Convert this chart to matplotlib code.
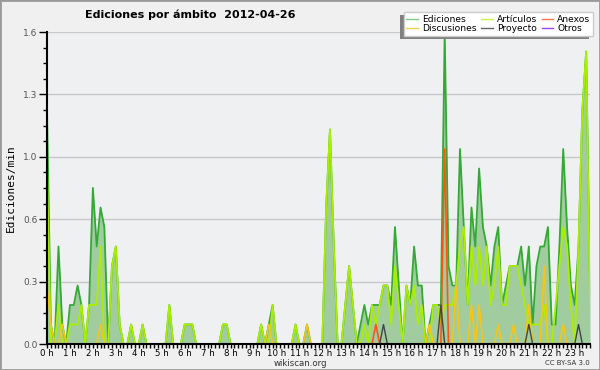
import numpy as np
import matplotlib
matplotlib.use('Agg')
import matplotlib.pyplot as plt
from matplotlib.patches import Rectangle
from matplotlib.lines import Line2D
from matplotlib.ticker import FixedLocator, MultipleLocator

# edits per minute, one value per 10-minute bin (one row per hour)
ediciones = [
    1.2, 0.1, 0.0, 0.5, 0.1, 0.0,
    0.2, 0.2, 0.3, 0.2, 0.0, 0.2,
    0.8, 0.5, 0.7, 0.6, 0.0, 0.4,
    0.5, 0.1, 0.0, 0.0, 0.1, 0.0,
    0.0, 0.1, 0.0, 0.0, 0.0, 0.0,
    0.0, 0.0, 0.2, 0.0, 0.0, 0.0,
    0.1, 0.1, 0.1, 0.0, 0.0, 0.0,
    0.0, 0.0, 0.0, 0.0, 0.1, 0.1,
    0.0, 0.0, 0.0, 0.0, 0.0, 0.0,
    0.0, 0.0, 0.1, 0.0, 0.1, 0.2,
    0.0, 0.0, 0.0, 0.0, 0.0, 0.1,
    0.0, 0.0, 0.1, 0.0, 0.0, 0.0,
    0.0, 0.7, 1.1, 0.5, 0.0, 0.0,
    0.2, 0.4, 0.2, 0.0, 0.1, 0.2,
    0.1, 0.2, 0.2, 0.2, 0.3, 0.3,
    0.2, 0.6, 0.3, 0.0, 0.3, 0.2,
    0.5, 0.3, 0.3, 0.0, 0.1, 0.2,
    0.2, 0.2, 1.6, 0.4, 0.3, 0.3,
    1.0, 0.6, 0.2, 0.7, 0.5, 0.9,
    0.6, 0.5, 0.3, 0.5, 0.6, 0.2,
    0.3, 0.4, 0.4, 0.4, 0.5, 0.3,
    0.5, 0.1, 0.4, 0.5, 0.5, 0.6,
    0.1, 0.1, 0.5, 1.0, 0.6, 0.3,
    0.2, 0.5, 1.2, 1.5, 0.3,
]
articulos = [
    0.9, 0.0, 0.0, 0.2, 0.0, 0.0,
    0.1, 0.1, 0.1, 0.2, 0.0, 0.2,
    0.2, 0.2, 0.5, 0.0, 0.0, 0.4,
    0.5, 0.1, 0.0, 0.0, 0.1, 0.0,
    0.0, 0.1, 0.0, 0.0, 0.0, 0.0,
    0.0, 0.0, 0.2, 0.0, 0.0, 0.0,
    0.1, 0.1, 0.1, 0.0, 0.0, 0.0,
    0.0, 0.0, 0.0, 0.0, 0.1, 0.1,
    0.0, 0.0, 0.0, 0.0, 0.0, 0.0,
    0.0, 0.0, 0.1, 0.0, 0.0, 0.2,
    0.0, 0.0, 0.0, 0.0, 0.0, 0.1,
    0.0, 0.0, 0.0, 0.0, 0.0, 0.0,
    0.0, 0.7, 1.1, 0.5, 0.0, 0.0,
    0.2, 0.4, 0.2, 0.0, 0.0, 0.1,
    0.0, 0.2, 0.1, 0.2, 0.3, 0.3,
    0.1, 0.4, 0.2, 0.0, 0.3, 0.2,
    0.3, 0.1, 0.2, 0.0, 0.0, 0.2,
    0.2, 0.1, 0.2, 0.2, 0.2, 0.3,
    0.5, 0.6, 0.2, 0.5, 0.3, 0.5,
    0.3, 0.5, 0.2, 0.3, 0.5, 0.2,
    0.2, 0.4, 0.4, 0.4, 0.3, 0.2,
    0.1, 0.1, 0.1, 0.1, 0.2, 0.0,
    0.0, 0.2, 0.4, 0.6, 0.5, 0.2,
    0.0, 0.5, 1.2, 1.5, 0.2,
]
discusiones = [
    0.3, 0.1, 0.0, 0.0, 0.1, 0.0,
    0.0, 0.0, 0.0, 0.0, 0.0, 0.0,
    0.0, 0.0, 0.1, 0.0, 0.0, 0.0,
    0.0, 0.0, 0.0, 0.0, 0.0, 0.0,
    0.0, 0.0, 0.0, 0.0, 0.0, 0.0,
    0.0, 0.0, 0.0, 0.0, 0.0, 0.0,
    0.0, 0.0, 0.0, 0.0, 0.0, 0.0,
    0.0, 0.0, 0.0, 0.0, 0.0, 0.0,
    0.0, 0.0, 0.0, 0.0, 0.0, 0.0,
    0.0, 0.0, 0.0, 0.0, 0.1, 0.0,
    0.0, 0.0, 0.0, 0.0, 0.0, 0.0,
    0.0, 0.0, 0.1, 0.0, 0.0, 0.0,
    0.0, 0.0, 0.0, 0.0, 0.0, 0.0,
    0.0, 0.0, 0.0, 0.0, 0.0, 0.0,
    0.0, 0.0, 0.0, 0.0, 0.0, 0.0,
    0.0, 0.0, 0.0, 0.0, 0.0, 0.0,
    0.0, 0.0, 0.0, 0.0, 0.1, 0.0,
    0.0, 0.0, 0.0, 0.0, 0.0, 0.3,
    0.0, 0.0, 0.0, 0.2, 0.0, 0.2,
    0.0, 0.0, 0.0, 0.0, 0.1, 0.0,
    0.0, 0.0, 0.1, 0.0, 0.0, 0.0,
    0.2, 0.0, 0.0, 0.0, 0.4, 0.0,
    0.0, 0.0, 0.0, 0.1, 0.0, 0.0,
    0.0, 0.0, 0.0, 0.0, 0.0,
]
# sparse series: bin index -> edits/min
anexos_pts = {86: 0.1, 104: 1.0}
proyecto_pts = {88: 0.1, 103: 0.2, 126: 0.1, 139: 0.1}
otros_pts = {}

hour_labels = ['%d h' % h for h in range(24)]
y_ticks = [0.0, 0.32, 0.64, 0.96, 1.28, 1.6]
y_labels = ['0.0', '0.3', '0.6', '1.0', '1.3', '1.6']

n = len(ediciones)
hours = np.arange(n) / 6.0


def sparse(pts):
    s = np.zeros(n)
    for k, v in pts.items():
        s[k] = v
    return s


anexos = sparse(anexos_pts)
proyecto = sparse(proyecto_pts)
otros = sparse(otros_pts)

fig = plt.figure(figsize=(6, 3.7), dpi=100, facecolor='#f0f0f0')
fig.patches.append(Rectangle((0, 0), 1, 1, transform=fig.transFigure, fill=False,
                             edgecolor='#9a9a9a', linewidth=2))
ax = fig.add_axes([47 / 600, 26 / 370, 543 / 600, 312 / 370])
ax.set_facecolor('#eef0f2')

ax.fill_between(hours, ediciones, 0, color='#a0cca0', linewidth=0, zorder=2)
ax.plot(hours, otros, color='#9933ee', lw=1.2, zorder=3)
ax.plot(hours, ediciones, color='#33aa33', lw=1.3, zorder=4)
ax.plot(hours, articulos, color='#aaee00', lw=1.3, zorder=5)
ax.plot(hours, discusiones, color='#f5c518', lw=1.2, zorder=6)
ax.plot(hours, anexos, color='#ff5511', lw=1.2, zorder=7)
ax.plot(hours, proyecto, color='#444444', lw=1.0, zorder=8)

ax.set_xlim(0, hours[-1])
ax.set_ylim(0, 1.6)

ax.yaxis.set_major_locator(FixedLocator(y_ticks))
ax.set_yticklabels(y_labels)
ax.yaxis.set_minor_locator(MultipleLocator(0.08))
ax.xaxis.set_major_locator(FixedLocator(range(24)))
ax.set_xticklabels(hour_labels)
ax.xaxis.set_minor_locator(MultipleLocator(1 / 6))

ax.tick_params(axis='y', which='major', length=6, width=1, labelsize=6.5,
               labelcolor='#555555', pad=1)
ax.tick_params(axis='y', which='minor', length=3, width=1)
ax.tick_params(axis='x', which='both', length=3, width=1, labelsize=6.2, pad=0.5)
ax.grid(axis='y', which='major', color='#c8c8c8', linewidth=1, zorder=1)
ax.set_axisbelow(True)
for side in ['top', 'right']:
    ax.spines[side].set_visible(False)
for side in ['left', 'bottom']:
    ax.spines[side].set_linewidth(1.5)
    ax.spines[side].set_zorder(10)

ax.set_ylabel('Ediciones/min', family='DejaVu Sans Mono', fontsize=8, labelpad=5)

fig.text(85 / 600, 1 - 15 / 370, 'Ediciones por ámbito  2012-04-26',
         fontsize=8, fontweight='bold', va='center', ha='left')
fig.text(0.5, 1 - 363 / 370, 'wikiscan.org', fontsize=6.2, ha='center', va='center',
         color='#333333')
fig.text(590 / 600, 1 - 363 / 370, 'CC BY-SA 3.0', fontsize=5, ha='right', va='center',
         color='#333333')

# legend with a grey shadow to the lower left
handles = [
    Line2D([], [], color='#80cc80', lw=1), Line2D([], [], color='#f5d050', lw=1),
    Line2D([], [], color='#ccee55', lw=1), Line2D([], [], color='#666666', lw=1),
    Line2D([], [], color='#ff7744', lw=1), Line2D([], [], color='#9944ee', lw=1),
]
labels = ['Ediciones', 'Discusiones', 'Artículos', 'Proyecto', 'Anexos', 'Otros']
leg = fig.legend(handles, labels, ncol=3, loc='upper right',
                 bbox_to_anchor=(593 / 600, 1 - 12 / 370), fontsize=6.6,
                 frameon=True, fancybox=False, framealpha=1, edgecolor='#cccccc',
                 facecolor='white', handlelength=1.3, handletextpad=0.4,
                 columnspacing=0.5, labelspacing=0.05, borderpad=0.3,
                 borderaxespad=0)
leg.set_zorder(30)

fig.canvas.draw()
bb = leg.get_window_extent().transformed(fig.transFigure.inverted())
fig.patches.append(Rectangle((bb.x0 - 4 / 600, bb.y0 - 3 / 370), bb.width, bb.height,
                             transform=fig.transFigure, facecolor='#808080',
                             edgecolor='none', zorder=20))

fig.savefig('out.png', dpi=100, facecolor=fig.get_facecolor())
